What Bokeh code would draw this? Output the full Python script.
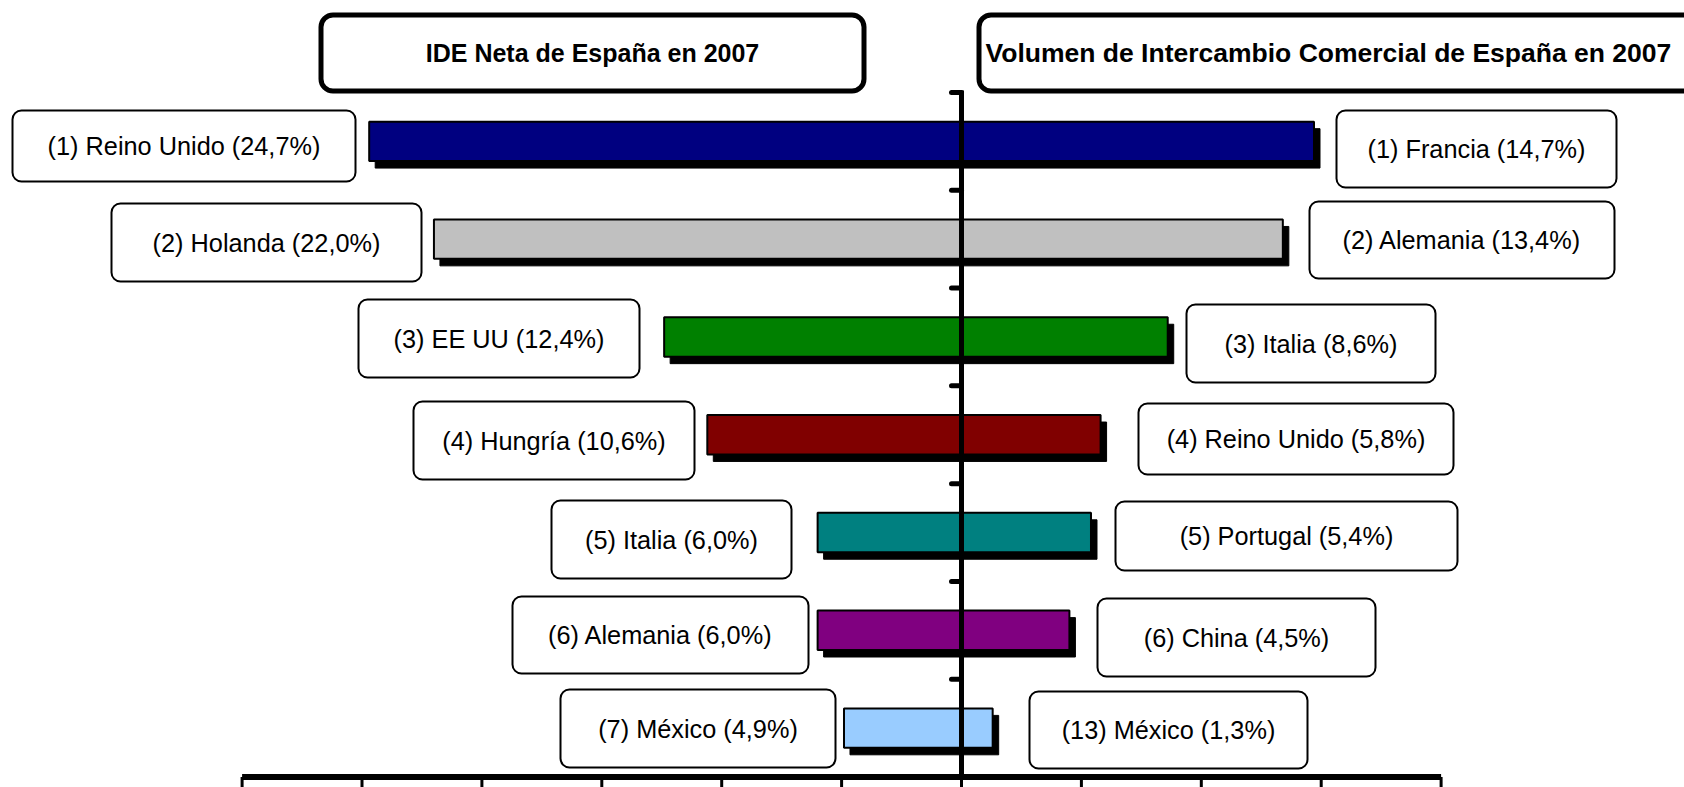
from bokeh.plotting import figure
from bokeh.models import Range1d, BoxAnnotation, ColumnDataSource
from bokeh.core.properties import value
from bokeh.embed import file_html
from bokeh.resources import INLINE

# ---------------- data ----------------
ide_rank = [1, 2, 3, 4, 5, 6, 7]
ide_country = ["Reino Unido", "Holanda", "EE UU", "Hungría", "Italia", "Alemania", "México"]
ide_share = [24.7, 22.0, 12.4, 10.6, 6.0, 6.0, 4.9]

trade_rank = [1, 2, 3, 4, 5, 6, 13]
trade_country = ["Francia", "Alemania", "Italia", "Reino Unido", "Portugal", "China", "México"]
trade_share = [14.7, 13.4, 8.6, 5.8, 5.4, 4.5, 1.3]

bar_colors = ["#000080", "#C0C0C0", "#008000", "#800000", "#008080", "#800080", "#99CCFF"]

x_ticks = [-30, -25, -20, -15, -10, -5, 0, 5, 10, 15, 20]
y_ticks = [1, 2, 3, 4, 5, 6, 7]

title_left = "IDE Neta de España en 2007"
title_right = "Volumen de Intercambio Comercial de España en  2007"

# ---------------- layout (page pixels) ----------------
W, H = 1684, 787
ORIGIN = 0            # page offset of the figure
PX_X = 23.98          # pixels per unit on x
X0_PAGE = 961.0       # page x of value 0
PX_Y = 97.79          # pixels per category slot
Y0_PAGE = 776.5       # page y of the bottom axis


def dx(px):
    return (px - X0_PAGE) / PX_X


def dy(py):
    return (Y0_PAGE - py) / PX_Y


# label boxes: left, right, top, bottom (page px)
left_boxes = [(12, 355, 110, 181), (111, 421, 203, 281), (358, 639, 299, 377),
              (413, 694, 401, 479), (551, 791, 500, 578), (512, 808, 596, 673),
              (560, 835, 689, 767)]
right_boxes = [(1336, 1616, 110, 187), (1309, 1614, 201, 278), (1186, 1435, 304, 382),
               (1138, 1453, 403, 474), (1115, 1457, 501, 570), (1097, 1375, 598, 676),
               (1029, 1307, 691, 768)]
title_boxes = [(320.5, 863.5, 14.5, 90.5), (978.5, 1730, 14.5, 90.5)]

p = figure(width=W, height=H, output_backend="svg", toolbar_location=None,
           x_range=Range1d(dx(ORIGIN), dx(ORIGIN + W)), y_range=Range1d(dy(ORIGIN + H), dy(ORIGIN)),
           x_axis_location=None, y_axis_location=None, min_border=0,
           outline_line_color=None, title=None)
p.grid.visible = False
p.background_fill_color = "white"
p.border_fill_color = "white"

n = len(ide_share)
centers = [n - i - 0.5 for i in range(n)]
half_h = 19.7 / PX_Y
sh_x = 6 / PX_X
sh_y = 7 / PX_Y

bars = ColumnDataSource(dict(
    left=[-v for v in ide_share], right=trade_share,
    top=[c + half_h for c in centers], bottom=[c - half_h for c in centers],
    color=bar_colors))
shadow = ColumnDataSource(dict(
    left=[-v + sh_x for v in ide_share], right=[v + sh_x for v in trade_share],
    top=[c + half_h - sh_y for c in centers], bottom=[c - half_h - sh_y for c in centers]))

p.quad(left="left", right="right", top="top", bottom="bottom", source=shadow,
       fill_color="black", line_color="black", line_width=1)
p.quad(left="left", right="right", top="top", bottom="bottom", source=bars,
       fill_color="color", line_color="black", line_width=2)

# vertical axis at 0 with ticks to the left
p.segment(x0=[0], y0=[0], x1=[0], y1=[max(y_ticks) + 0.02], line_color="black", line_width=5)
p.segment(x0=[-10 / PX_X] * len(y_ticks), y0=y_ticks, x1=[0] * len(y_ticks), y1=y_ticks,
          line_color="black", line_width=5, line_cap="round")

# horizontal axis at the bottom with downward ticks
p.segment(x0=[min(x_ticks)], y0=[0], x1=[max(x_ticks)], y1=[0], line_color="black", line_width=6)
p.segment(x0=x_ticks, y0=[0] * len(x_ticks), x1=x_ticks, y1=[-0.3] * len(x_ticks),
          line_color="black", line_width=3)

# rounded label boxes
for (l, r, t, b) in left_boxes + right_boxes:
    p.add_layout(BoxAnnotation(left=dx(l), right=dx(r), top=dy(t), bottom=dy(b),
                               fill_color="white", fill_alpha=1.0, line_color="black",
                               line_width=2, line_alpha=1.0, border_radius=9))
for (l, r, t, b) in title_boxes:
    p.add_layout(BoxAnnotation(left=dx(l), right=dx(r), top=dy(t), bottom=dy(b),
                               fill_color="white", fill_alpha=1.0, line_color="black",
                               line_width=5, line_alpha=1.0, border_radius=12))


def fmt(v):
    return f"{v:.1f}".replace(".", ",")


left_text = [f"({r}) {c} ({fmt(v)}%)" for r, c, v in zip(ide_rank, ide_country, ide_share)]
right_text = [f"({r}) {c} ({fmt(v)}%)" for r, c, v in zip(trade_rank, trade_country, trade_share)]
boxes = left_boxes + right_boxes
lab = ColumnDataSource(dict(
    x=[dx((l + r) / 2) for (l, r, t, b) in boxes],
    y=[dy((t + b) / 2) for (l, r, t, b) in boxes],
    text=left_text + right_text))
tr = p.text(x="x", y="y", text="text", source=lab, text_font=value("Liberation Sans"),
            text_font_size=value("25.3px"), text_align="center", text_baseline="middle",
            text_color="black")
tr.level = "overlay"

t1 = p.text(x=[dx((title_boxes[0][0] + title_boxes[0][1]) / 2)], y=[dy(52.5)], text=[title_left],
            text_font=value("Liberation Sans"), text_font_size=value("25px"),
            text_font_style="bold", text_align="center", text_baseline="middle", text_color="black")
t1.level = "overlay"
t2 = p.text(x=[dx(985)], y=[dy(52.5)], text=[title_right],
            text_font=value("Liberation Sans"), text_font_size=value("26.5px"),
            text_font_style="bold", text_align="left", text_baseline="middle", text_color="black")
t2.level = "overlay"

open("out.html", "w").write(file_html(p, INLINE))
